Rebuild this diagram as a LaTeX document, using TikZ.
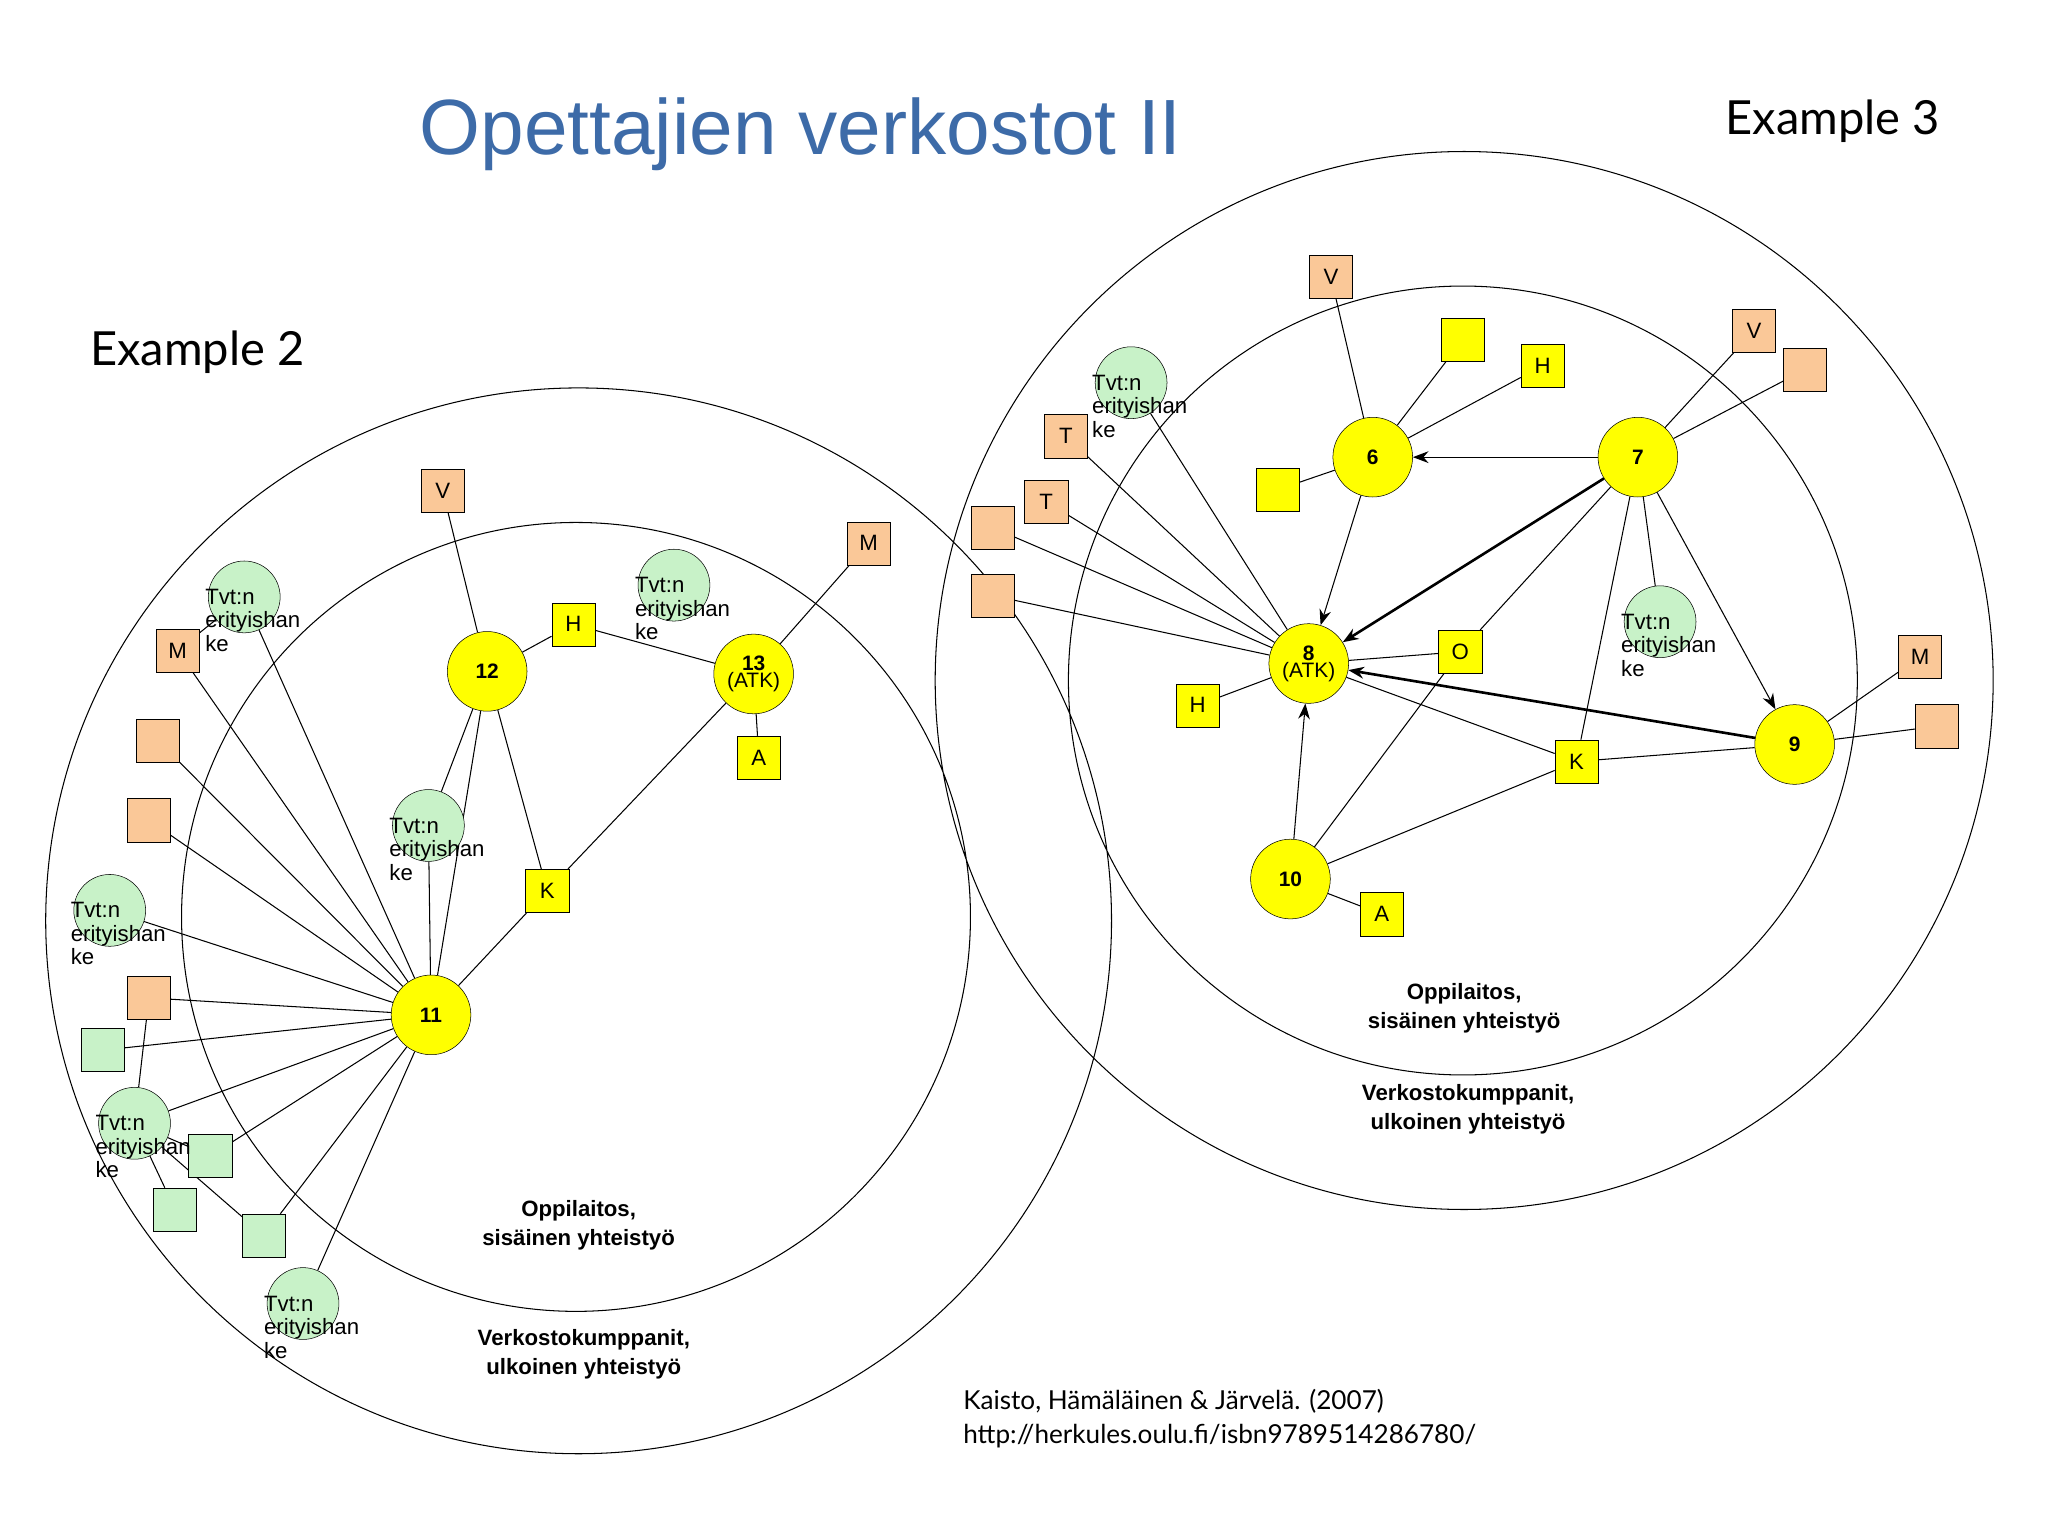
\documentclass[tikz,border=0pt]{standalone}
\usepackage{fontspec}
\setmainfont{Liberation Sans}
\newfontfamily\gill{Lato}
\usetikzlibrary{backgrounds,arrows.meta}
\definecolor{ty}{HTML}{FFFF00}
\definecolor{to}{HTML}{FAC898}
\definecolor{tg}{HTML}{C8F2C8}
\definecolor{tb}{HTML}{3D6BA8}
\tikzset{
 sq/.style={draw,minimum size=33pt,inner sep=0pt,font=\fontsize{17}{17}\selectfont},
 ysq/.style={sq,fill=ty}, osq/.style={sq,fill=to}, gsq/.style={sq,fill=tg},
 yc/.style={circle,draw,fill=ty,minimum size=61pt,inner sep=0pt,font=\fontsize{16}{17}\bfseries\selectfont,align=center},
 gc/.style={circle,draw,fill=tg,minimum size=55pt,inner sep=0pt},
 gtxt/.style={anchor=west,align=left,inner sep=0pt,font=\fontsize{17}{18}\selectfont},
 ed/.style={draw,line width=0.8pt},
 ar/.style={ed,-{Stealth[length=12pt,width=9pt]}},
 tar/.style={ar,line width=2pt},
 bl/.style={align=center,font=\fontsize{17}{22}\bfseries\selectfont}
}
\newcommand{\gn}[3]{\node[gc] (#1) at (#2,#3) {};\node[gtxt] at (#2-30,#3+18) {Tvt:n\\erityishan\\ke};}
\begin{document}
\begin{tikzpicture}[x=1pt,y=-1pt]
\useasboundingbox (0,0) rectangle (1568,1176);
\node[font=\fontsize{60}{60}\selectfont,text=tb] at (613,103) {Opettajien verkostot II};
\node[font=\gill\fontsize{36}{36}\selectfont] at (1403,93) {Example 3};
\node[font=\gill\fontsize{36}{36}\selectfont] at (151,270) {Example 2};
\node[bl] at (443,938) {Oppilaitos,\\sisäinen yhteistyö};
\node[bl] at (447,1037) {Verkostokumppanit,\\ulkoinen yhteistyö};
\node[bl] at (1121,772) {Oppilaitos,\\sisäinen yhteistyö};
\node[bl] at (1124,849) {Verkostokumppanit,\\ulkoinen yhteistyö};
\node[anchor=north west,align=left,font=\gill\fontsize{20}{26}\selectfont] at (734,1060) {Kaisto, Hämäläinen \& Järvelä. (2007)\\http://herkules.oulu.fi/isbn9789514286780/};
% left
\node[yc] (n12) at (373,514) {12};
\node[yc] (n13) at (577,516) {13\\[-4pt]\mdseries(ATK)};
\node[yc] (n11) at (330,777) {11};
\node[osq] (lV) at (339,376) {V};
\node[osq] (lM) at (136,498) {M};
\node[osq] (lo1) at (121,567) {};
\node[osq] (lo2) at (114,628) {};
\node[osq] (lo3) at (114,764) {};
\node[gsq] (lg1) at (79,804) {};
\node[gsq] (lg2) at (161,885) {};
\node[gsq] (lg3) at (134,926) {};
\node[gsq] (lg4) at (202,946) {};
\node[ysq] (lH) at (439,478) {H};
\node[ysq] (lK) at (419,682) {K};
\node[ysq] (lA) at (581,580) {A};
\node[osq] (lM2) at (665,416) {M};
\gn{c1}{187}{457}
\gn{c2}{516}{448}
\gn{c3}{328}{632}
\gn{c4}{84}{697}
\gn{c5}{103}{860}
\gn{c6}{232}{998}
% right
\node[yc] (n6) at (1051,350) {6};
\node[yc] (n7) at (1254,350) {7};
\node[yc] (n8) at (1002,508) {8\\[-4pt]\mdseries(ATK)};
\node[yc] (n9) at (1374,570) {9};
\node[yc] (n10) at (988,673) {10};
\node[osq] (rV1) at (1019,212) {V};
\node[ysq] (ry1) at (1120,260) {};
\node[ysq] (rH1) at (1181,280) {H};
\node[osq] (rV2) at (1343,253) {V};
\node[osq] (ro1) at (1382,283) {};
\node[osq] (rT1) at (816,334) {T};
\node[osq] (rT2) at (801,384) {T};
\node[osq] (ro2) at (760,404) {};
\node[osq] (ro3) at (760,456) {};
\node[ysq] (ry2) at (978,375) {};
\node[ysq] (rO) at (1118,499) {O};
\node[ysq] (rH2) at (917,540) {H};
\node[ysq] (rK) at (1207,583) {K};
\node[ysq] (rA) at (1058,700) {A};
\node[osq] (rM) at (1470,503) {M};
\node[osq] (ro4) at (1483,556) {};
\gn{c7}{866}{293}
\gn{c8}{1271}{476}
\begin{scope}[on background layer]
\draw[line width=0.8pt] (443,705) circle (408) (441,702) circle (302)
  (1121,521) circle (405) (1120,521) circle (302);
\foreach \a/\b in {lV/n12,n12/lH,lH/n13,n13/lM2,n13/lA,n12/lK,n12/c3,n12/n11,c3/n11,lK/n11,n13/lK,
 c1/n11,lM/n11,lo1/n11,lo2/n11,c4/n11,lo3/n11,lg1/n11,c5/n11,lg2/n11,lg4/n11,c6/n11,lM/c1,lo3/c5,c5/lg2,c5/lg4,c5/lg3}
 \path[ed] (\a) -- (\b);
\foreach \a/\b in {rV1/n6,n6/ry1,n6/rH1,n7/rV2,n7/ro1,n6/ry2,n7/c8,n7/rK,n7/rO,rO/n8,rO/n10,n9/rK,n9/rM,n9/ro4,n10/rK,n10/rA,n8/rH2,
 n8/rT1,n8/rT2,n8/ro2,n8/ro3,n8/c7,rK/n8}
 \path[ed] (\a) -- (\b);
\path[ar] (n7) -- (n6);
\path[ar] (n6) -- (n8);
\path[ar] (n7) -- (n9);
\path[ar] (n10) -- (n8);
\path[tar] (n7) -- (n8);
\path[tar] (n9) -- (n8);
\end{scope}
\end{tikzpicture}
\end{document}
